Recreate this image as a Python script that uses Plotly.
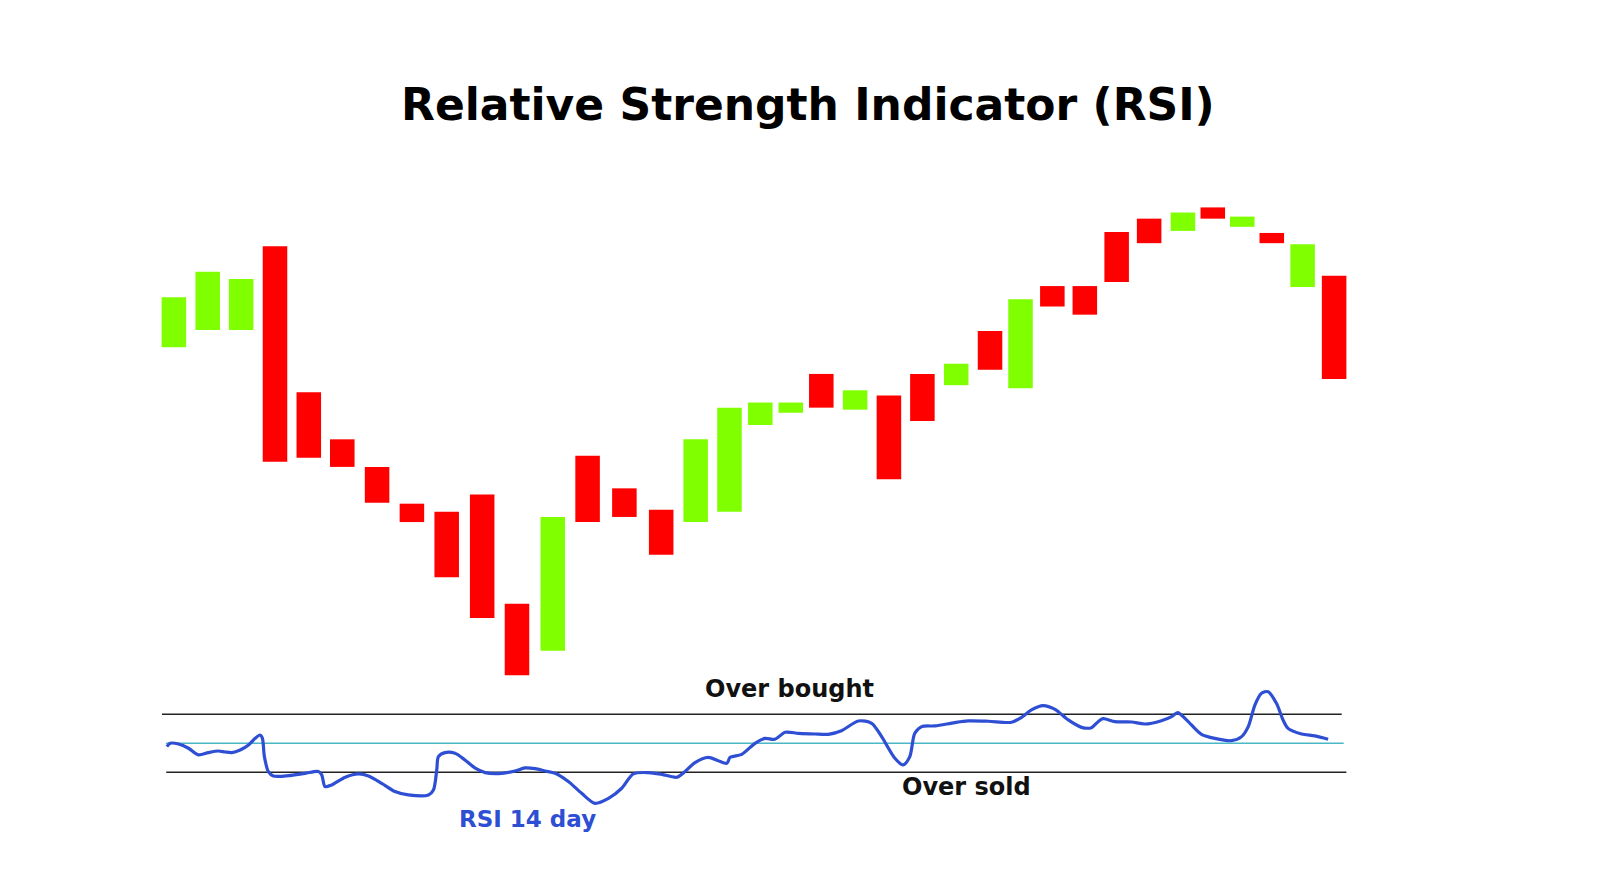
import plotly.graph_objects as go

# ---- candle data (price units); candles sit at slightly irregular day positions ----
candle_x = [1.00, 2.02, 3.03, 4.05, 5.07, 6.08, 7.13, 8.18, 9.23, 10.30, 11.35, 12.43,
            13.48, 14.59, 15.70, 16.74, 17.76, 18.69, 19.61, 20.53, 21.55, 22.57, 23.58, 24.60,
            25.62, 26.54, 27.50, 28.48, 29.44, 30.42, 31.44, 32.34, 33.23, 34.12, 35.05, 36.00]
opens = [172.0, 175.4, 175.4, 191.8, 163.2, 154.0, 148.6, 141.4, 139.8, 143.2, 121.8, 112.6,
         150.8, 144.4, 140.2, 137.8, 139.8, 156.8, 159.2, 166.8, 159.8, 162.6, 166.8, 164.6,
         175.2, 164.0, 184.0, 184.0, 194.6, 197.2, 194.8, 199.4, 195.6, 194.4, 183.8, 186.0]
closes = [181.8, 186.8, 185.4, 149.6, 150.4, 148.6, 141.6, 137.8, 127.0, 119.0, 107.8, 138.8,
          137.8, 138.8, 131.4, 154.0, 160.2, 161.2, 161.2, 160.2, 163.6, 146.2, 157.6, 168.8,
          167.6, 181.4, 180.0, 178.4, 184.8, 192.4, 198.4, 197.2, 197.6, 192.4, 192.2, 165.8]

# ---- RSI 14 day line (x in day units) ----
rsi_x = [0.79, 0.89, 1.14, 1.44, 1.74, 2.04, 2.34, 2.55, 2.75, 3.00, 3.25, 3.45, 3.60, 3.67,
         3.73, 3.85, 4.00, 4.46, 4.96, 5.36, 5.46, 5.56, 5.76, 6.17, 6.57, 6.87, 7.27, 7.67,
         8.07, 8.68, 8.83, 8.93, 8.98, 9.18, 9.48, 9.78, 10.09, 10.39, 10.89, 11.29, 11.59,
         11.90, 12.20, 12.50, 12.90, 13.30, 13.70, 14.11, 14.51, 14.86, 15.31, 15.72, 16.17,
         16.42, 16.72, 17.12, 17.42, 17.68, 17.78, 18.13, 18.53, 18.83, 19.13, 19.44, 19.84,
         20.34, 20.74, 21.14, 21.65, 22.05, 22.35, 22.75, 23.00, 23.20, 23.35, 23.56, 23.96,
         24.56, 24.96, 25.57, 26.27, 26.57, 26.87, 27.22, 27.58, 27.98, 28.38, 28.68, 28.88,
         29.03, 29.39, 29.89, 30.29, 30.79, 31.10, 31.28, 31.50, 31.70, 32.00, 32.40, 32.91,
         33.21, 33.41, 33.61, 33.81, 34.01, 34.26, 34.46, 34.61, 35.02, 35.42, 35.82]
rsi_y = [47.7, 50.0, 49.5, 46.6, 42.0, 43.6, 44.7, 44.0, 43.6, 45.4, 48.9, 53.4, 55.7, 53.4,
         40.8, 30.5, 27.5, 27.7, 29.3, 30.5, 28.2, 20.1, 21.3, 26.6, 28.9, 27.5, 22.4, 16.7,
         14.4, 14.4, 17.8, 31.6, 40.8, 43.6, 43.1, 38.5, 32.8, 29.8, 29.3, 30.9, 33.0,
         32.5, 30.9, 29.3, 23.6, 15.5, 8.6, 12.0, 19.0, 28.9, 29.8, 28.6, 26.6,
         30.5, 36.7, 40.3, 38.0, 36.2, 40.3, 42.4, 50.0, 53.4, 52.8, 57.6, 56.9,
         56.4, 56.2, 58.7, 65.4, 63.8, 54.6, 39.7, 35.1, 40.8, 56.9, 61.5, 62.0,
         64.3, 65.4, 65.2, 64.5, 67.9, 73.0, 76.0, 73.4, 66.1, 61.0, 60.8, 64.9,
         67.0, 64.9, 64.7, 63.3, 65.6, 68.4, 71.1, 67.2, 62.6, 56.2, 53.4, 51.8,
         54.6, 61.5, 76.4, 84.5, 85.6, 77.6, 66.1, 60.3, 56.4, 55.1, 52.8]

overbought = 70
midline = 50
oversold = 30

title_text = "Relative Strength Indicator (RSI)"
label_over_bought = "Over bought"
label_over_sold = "Over sold"
label_rsi = "RSI 14 day"

GREEN = "#80FF00"
RED = "#FF0000"
BLUE = "#2E4FD3"
TEAL = "#4BB8C6"
FONT = "DejaVu Sans"

up_x, up_base, up_h, dn_x, dn_base, dn_h = [], [], [], [], [], []
for d, o, c in zip(candle_x, opens, closes):
    if c >= o:
        up_x.append(d); up_base.append(o); up_h.append(c - o)
    else:
        dn_x.append(d); dn_base.append(c); dn_h.append(o - c)

fig = go.Figure()
fig.add_trace(go.Bar(x=up_x, y=up_h, base=up_base, width=0.74,
                     marker=dict(color=GREEN, line=dict(width=0)), showlegend=False))
fig.add_trace(go.Bar(x=dn_x, y=dn_h, base=dn_base, width=0.74,
                     marker=dict(color=RED, line=dict(width=0)), showlegend=False))

# reference lines on RSI axis
fig.add_trace(go.Scatter(x=[0.64, 36.23], y=[overbought, overbought], yaxis="y2", mode="lines",
                         line=dict(color="#222222", width=1.6), showlegend=False))
fig.add_trace(go.Scatter(x=[0.76, 36.29], y=[midline, midline], yaxis="y2", mode="lines",
                         line=dict(color=TEAL, width=1.4), showlegend=False))
fig.add_trace(go.Scatter(x=[0.77, 36.37], y=[oversold, oversold], yaxis="y2", mode="lines",
                         line=dict(color="#222222", width=1.6), showlegend=False))
fig.add_trace(go.Scatter(x=rsi_x, y=rsi_y, yaxis="y2", mode="lines",
                         line=dict(color=BLUE, width=3.2, shape="spline", smoothing=0.8),
                         showlegend=False))

ann_font = dict(family=FONT, size=24, color="#111111", weight=700)
fig.add_annotation(x=19.56, y=87.4, xref="x", yref="y2", text=label_over_bought,
                   showarrow=False, font=ann_font)
fig.add_annotation(x=24.9, y=19.9, xref="x", yref="y2", text=label_over_sold,
                   showarrow=False, font=ann_font)
fig.add_annotation(x=11.67, y=-2.5, xref="x", yref="y2", text=label_rsi,
                   showarrow=False, font=dict(family=FONT, size=23, color=BLUE, weight=700))
fig.add_annotation(x=0.545, y=1.0657, xref="paper", yref="paper", text=title_text,
                   showarrow=False, yanchor="middle",
                   font=dict(family=FONT, size=44, color="#000000", weight=700))

fig.update_layout(
    width=1594, height=879,
    margin=dict(l=146, r=248, t=142, b=37),
    paper_bgcolor="white", plot_bgcolor="white",
    barmode="overlay",
    xaxis=dict(range=[0.4, 36.6], visible=False),
    yaxis=dict(range=[73.60, 210.64], visible=False),
    yaxis2=dict(range=[-23.59, 459.17], overlaying="y", visible=False),
)

fig.write_html("out.html")
